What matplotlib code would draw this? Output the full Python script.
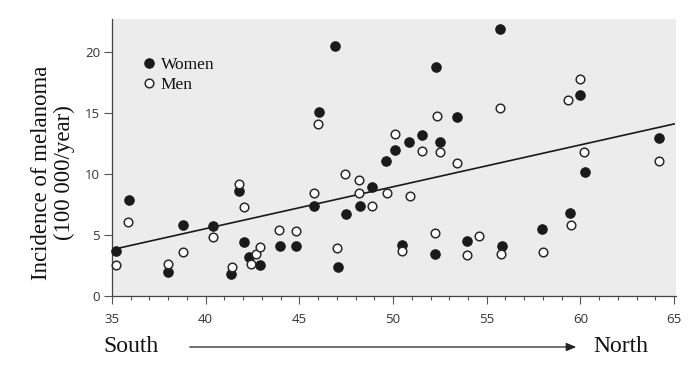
import matplotlib
matplotlib.use("Agg")
import matplotlib.pyplot as plt
from matplotlib.ticker import MultipleLocator

# Latitude (degrees N) and melanoma incidence per 100 000/year
women_lat = [35.2, 35.9, 38.0, 38.8, 40.4, 41.35, 41.8, 42.05, 42.3, 42.9,
             43.95, 44.8, 45.8, 46.05, 46.9, 47.05, 47.5, 48.25, 48.9, 49.6,
             50.1, 50.5, 50.85, 51.55, 52.25, 52.3, 52.5, 53.4, 53.95, 55.7,
             55.8, 57.95, 59.45, 60.0, 60.25, 64.2]
women_inc = [3.7, 7.9, 2.0, 5.8, 5.7, 1.8, 8.6, 4.4, 3.2, 2.5,
             4.1, 4.1, 7.4, 15.1, 20.5, 2.35, 6.7, 7.4, 8.9, 11.1,
             12.0, 4.2, 12.6, 13.2, 3.45, 18.8, 12.6, 14.7, 4.5, 21.9,
             4.1, 5.5, 6.8, 16.5, 10.2, 12.95]

men_lat = [35.2, 35.85, 38.0, 38.8, 40.4, 41.4, 41.8, 42.05, 42.4, 42.7,
           42.9, 43.9, 44.8, 45.8, 46.0, 47.0, 47.45, 48.2, 48.2, 48.9,
           49.7, 50.1, 50.5, 50.9, 51.55, 52.25, 52.35, 52.5, 53.4, 53.95,
           54.6, 55.7, 55.75, 58.0, 59.35, 59.5, 60.0, 60.2, 64.2]
men_inc = [2.5, 6.1, 2.6, 3.6, 4.8, 2.4, 9.2, 7.3, 2.6, 3.4,
           4.0, 5.4, 5.3, 8.4, 14.1, 3.9, 10.0, 9.5, 8.4, 7.4,
           8.4, 13.3, 3.7, 8.2, 11.9, 5.2, 14.75, 11.8, 10.9, 3.35,
           4.9, 15.4, 3.45, 3.6, 16.1, 5.8, 17.8, 11.8, 11.1]

trend_lat = [35, 65]
trend_inc = [3.8, 14.1]

x_ticks = [35, 40, 45, 50, 55, 60, 65]
y_ticks = [0, 5, 10, 15, 20]

serif = ["Liberation Serif", "DejaVu Serif"]

fig = plt.figure(figsize=(7.0, 3.71), dpi=100)
ax = fig.add_axes([0.16, 0.2022, 0.8057, 0.7466])
ax.set_facecolor("#ececec")

ax.plot(trend_lat, trend_inc, color="#1a1a1a", lw=1.2, zorder=2)
ax.plot(women_lat, women_inc, "o", ms=6.8, mfc="#1a1a1a", mec="#1a1a1a",
        mew=0.8, zorder=3, clip_on=False, label="Women")
ax.plot(men_lat, men_inc, "o", ms=6.2, mfc="white", mec="#2a2a2a",
        mew=1.1, zorder=3, clip_on=False, label="Men")

ax.set_xlim(35, 65.1)
ax.set_ylim(0, 22.7)
ax.set_xticks(x_ticks)
ax.set_yticks(y_ticks)
ax.xaxis.set_minor_locator(MultipleLocator(1))

for s in ["top", "right"]:
    ax.spines[s].set_visible(False)
for s in ["left", "bottom"]:
    ax.spines[s].set_color("#444444")
    ax.spines[s].set_linewidth(0.9)

ax.tick_params(axis="both", which="major", direction="out", length=5.5,
               width=0.8, color="#555555", labelcolor="#333333",
               labelsize=9.5, pad=3)
ax.tick_params(axis="x", which="minor", direction="out", length=3,
               width=0.8, color="#555555")
for lbl in ax.get_xticklabels() + ax.get_yticklabels():
    lbl.set_family(["Open Sans", "DejaVu Sans"])
ax.tick_params(axis="x", which="major", pad=6.5)

ax.set_ylabel("Incidence of melanoma\n(100 000/year)", family=serif,
              fontsize=16.5, color="#111111", linespacing=1.1)
ax.yaxis.set_label_coords(-0.066, 0.445)

leg = ax.legend(loc="upper left", bbox_to_anchor=(0.056, 0.862), frameon=False,
                prop={"family": serif, "size": 12.5}, handlelength=0.6,
                handletextpad=0.4, labelspacing=0.22, borderpad=0.0,
                borderaxespad=0.0)
for t in leg.get_texts():
    t.set_color("#111111")

# South -> North annotation below the axis
fig.text(103 / 700, 1 - 346 / 371, "South", family=serif, fontsize=17,
         color="#111111", ha="left", va="center")
fig.text(593 / 700, 1 - 346 / 371, "North", family=serif, fontsize=17,
         color="#111111", ha="left", va="center")
fig.patches.append(matplotlib.patches.FancyArrowPatch(
    (187 / 700, 1 - 347 / 371), (579 / 700, 1 - 347 / 371),
    transform=fig.transFigure, arrowstyle="-|>,head_length=6,head_width=2.5",
    color="#222222", lw=0.9, mutation_scale=1))

fig.savefig("out.png", dpi=100)
